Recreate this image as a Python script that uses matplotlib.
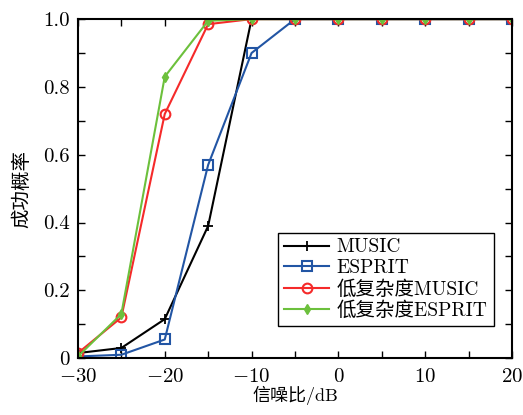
import matplotlib
matplotlib.use("Agg")
import matplotlib.pyplot as plt
from matplotlib.ticker import MultipleLocator, FixedLocator, FixedFormatter

plt.rcParams['font.family'] = ['cmr10', 'Noto Sans CJK SC']
plt.rcParams['mathtext.fontset'] = 'cm'
plt.rcParams['axes.unicode_minus'] = False

# === data ===
snr = [-30, -25, -20, -15, -10, -5, 0, 5, 10, 15, 20]
music = [0.015, 0.03, 0.115, 0.39, 1.0, 1.0, 1.0, 1.0, 1.0, 1.0, 1.0]
esprit = [0.005, 0.01, 0.055, 0.57, 0.9, 1.0, 1.0, 1.0, 1.0, 1.0, 1.0]
low_music = [0.015, 0.12, 0.72, 0.985, 1.0, 1.0, 1.0, 1.0, 1.0, 1.0, 1.0]
low_esprit = [0.005, 0.13, 0.83, 0.995, 1.0, 1.0, 1.0, 1.0, 1.0, 1.0, 1.0]

xticks = [-30, -20, -10, 0, 10, 20]
xlabels = [r'$-30$', r'$-20$', r'$-10$', r'$0$', r'$10$', r'$20$']
yticks = [0, 0.2, 0.4, 0.6, 0.8, 1.0]
ylabels = ['0', '0.2', '0.4', '0.6', '0.8', '1.0']

fig = plt.figure(figsize=(5.23, 4.15), dpi=100)
ax = fig.add_axes([0.149, 0.137, 0.830, 0.817])

ax.plot(snr, music, color='black', marker='+', markersize=7, mew=1.3, lw=1.5, label='MUSIC')
ax.plot(snr, esprit, color='#2255a4', marker='s', markersize=7, mfc='none', mew=1.5,
        lw=1.5, label='ESPRIT')
ax.plot(snr, low_music, color='#f52a2a', marker='o', markersize=7, mfc='none', mew=1.5,
        lw=1.5, label='低复杂度MUSIC')
ax.plot(snr, low_esprit, color='#6cc03c', marker='d', markersize=5, lw=1.5,
        label='低复杂度ESPRIT')

ax.set_xlim(-30, 20)
ax.set_ylim(0, 1.0)
ax.xaxis.set_major_locator(FixedLocator(xticks))
ax.xaxis.set_major_formatter(FixedFormatter(xlabels))
ax.xaxis.set_minor_locator(MultipleLocator(5))
ax.yaxis.set_major_locator(FixedLocator(yticks))
ax.yaxis.set_major_formatter(FixedFormatter(ylabels))
ax.yaxis.set_minor_locator(MultipleLocator(0.1))
ax.tick_params(which='both', direction='in', top=True, right=True, labelsize=15, width=1)
ax.tick_params(axis='x', pad=7)
ax.tick_params(axis='y', pad=6)
ax.tick_params(which='major', length=5)
ax.tick_params(which='minor', length=5)
for s in ax.spines.values():
    s.set_linewidth(1.5)

ax.set_xlabel('信噪比/dB', fontsize=13, labelpad=0)
ax.set_ylabel('成功概率', fontsize=14, labelpad=8)

leg = ax.legend(loc='upper left', bbox_to_anchor=(0.462, 0.37), fontsize=14,
                fancybox=False, edgecolor='black', framealpha=1,
                handlelength=2.3, borderpad=0.3, labelspacing=0.15, handletextpad=0.4,
                borderaxespad=0)
leg.get_frame().set_linewidth(1)

fig.savefig('out.png', dpi=100)
